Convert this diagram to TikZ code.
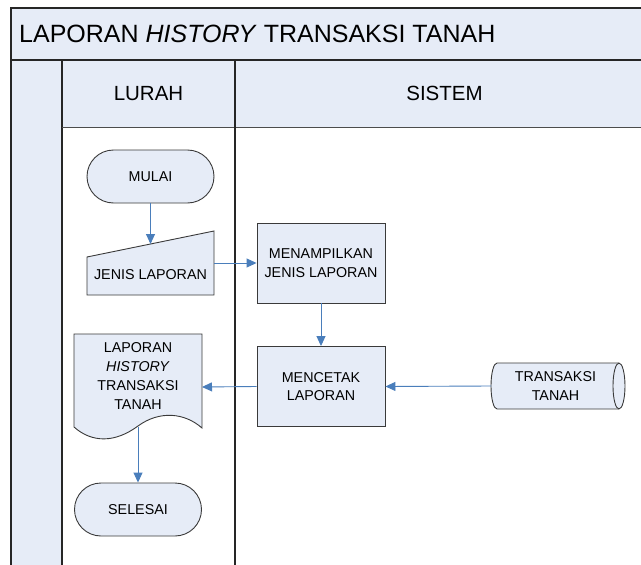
\documentclass[tikz,border=0pt]{standalone}
\usepackage{fontspec}
\setmainfont{Liberation Sans}
\usetikzlibrary{arrows.meta}
\definecolor{lanefill}{HTML}{E6ECF7}
\definecolor{flowblue}{HTML}{4A7EBB}
\definecolor{edgegray}{HTML}{3A3A3A}
\tikzset{
  frameline/.style={draw=black!85, line width=1.2pt},
  shapebox/.style={draw=edgegray, fill=lanefill, line width=0.9pt},
  proc/.style={shapebox, rectangle, minimum width=128pt, minimum height=80pt, align=center, inner sep=0pt, font=\fontsize{14.3}{18.7}\selectfont},
  term/.style={shapebox, rectangle, rounded corners=26.5pt, minimum width=127pt, minimum height=53pt, inner sep=0pt, font=\fontsize{14.3}{18.7}\selectfont},
  lbl/.style={align=center, inner sep=0pt, font=\fontsize{14.3}{18.7}\selectfont},
  flow/.style={draw=flowblue, line width=0.9pt, -{Triangle[length=10pt,width=9pt]}, shorten >=0pt},
}
\begin{document}
\begin{tikzpicture}[x={(1pt,0)}, y={(0,-1pt)}]
\useasboundingbox (0,0) rectangle (641,565);
% backgrounds
\fill[lanefill] (11,8) rectangle (641,60);
\fill[lanefill] (11,60) rectangle (62,565);
\fill[lanefill] (62,60) rectangle (641,127);
% frame lines
\draw[frameline] (11,565) -- (11,8) -- (641,8);
\draw[frameline] (11,60) -- (641,60);
\draw[frameline] (62,60) -- (62,565);
\draw[draw=black!70, line width=1pt] (62,127) -- (641,127);
\draw[frameline] (235,60) -- (235,565);
% headers
\node[anchor=west, inner sep=0pt, font=\fontsize{25}{30}\selectfont] (title) at (19,34) {LAPORAN \textit{HISTORY} TRANSAKSI TANAH};
\node[inner sep=0pt, font=\fontsize{20.5}{24}\selectfont] (lurah) at (148.5,93.5) {LURAH};
\node[inner sep=0pt, font=\fontsize{20.5}{24}\selectfont] (sistem) at (444.5,93.5) {SISTEM};
% start
\node[term] (mulai) at (150.5,176.5) {MULAI};
% manual input
\draw[shapebox] (87,257) -- (214,231) -- (214,295) -- (87,295) -- cycle;
\coordinate (jtop) at (150.5,244);
\coordinate (jright) at (214,263);
\node[lbl] (jenis) at (150.5,275) {JENIS LAPORAN};
% processes
\node[proc] (tampil) at (321,263) {MENAMPILKAN\\JENIS LAPORAN};
\node[proc] (cetak) at (321,386.5) {MENCETAK\\LAPORAN};
% document
\draw[shapebox] (74,334) -- (202,334) -- (202,428)
  .. controls (185,413) and (160,410) .. (138,426)
  .. controls (115,443) and (92,443) .. (74,427) -- cycle;
\coordinate (dright) at (202,387);
\coordinate (dbottom) at (138,427);
\node[lbl] (laporan) at (138,376) {LAPORAN\\\textit{HISTORY}\\TRANSAKSI\\TANAH};
% end
\node[term] (selesai) at (138,509.5) {SELESAI};
% stored data
\draw[shapebox] (497,363) -- (619,363) arc[start angle=-90, end angle=90, x radius=6, y radius=23]
  -- (497,409) arc[start angle=90, end angle=270, x radius=6, y radius=23] -- cycle;
\draw[draw=edgegray, line width=0.9pt] (619,363) arc[start angle=270, end angle=90, x radius=6, y radius=23];
\coordinate (dbleft) at (491,386);
\node[lbl] (transaksi) at (555.5,386) {TRANSAKSI\\TANAH};
% connectors
\draw[flow] (mulai.south) -- (jtop);
\draw[flow] (jright) -- (tampil.west |- jright);
\draw[flow] (tampil.south) -- (cetak.north);
\draw[flow] (cetak.west) -- (dright);
\draw[flow] (dbottom) -- (selesai.north);
\draw[flow] (dbleft) -- (cetak.east);
\end{tikzpicture}
\end{document}
